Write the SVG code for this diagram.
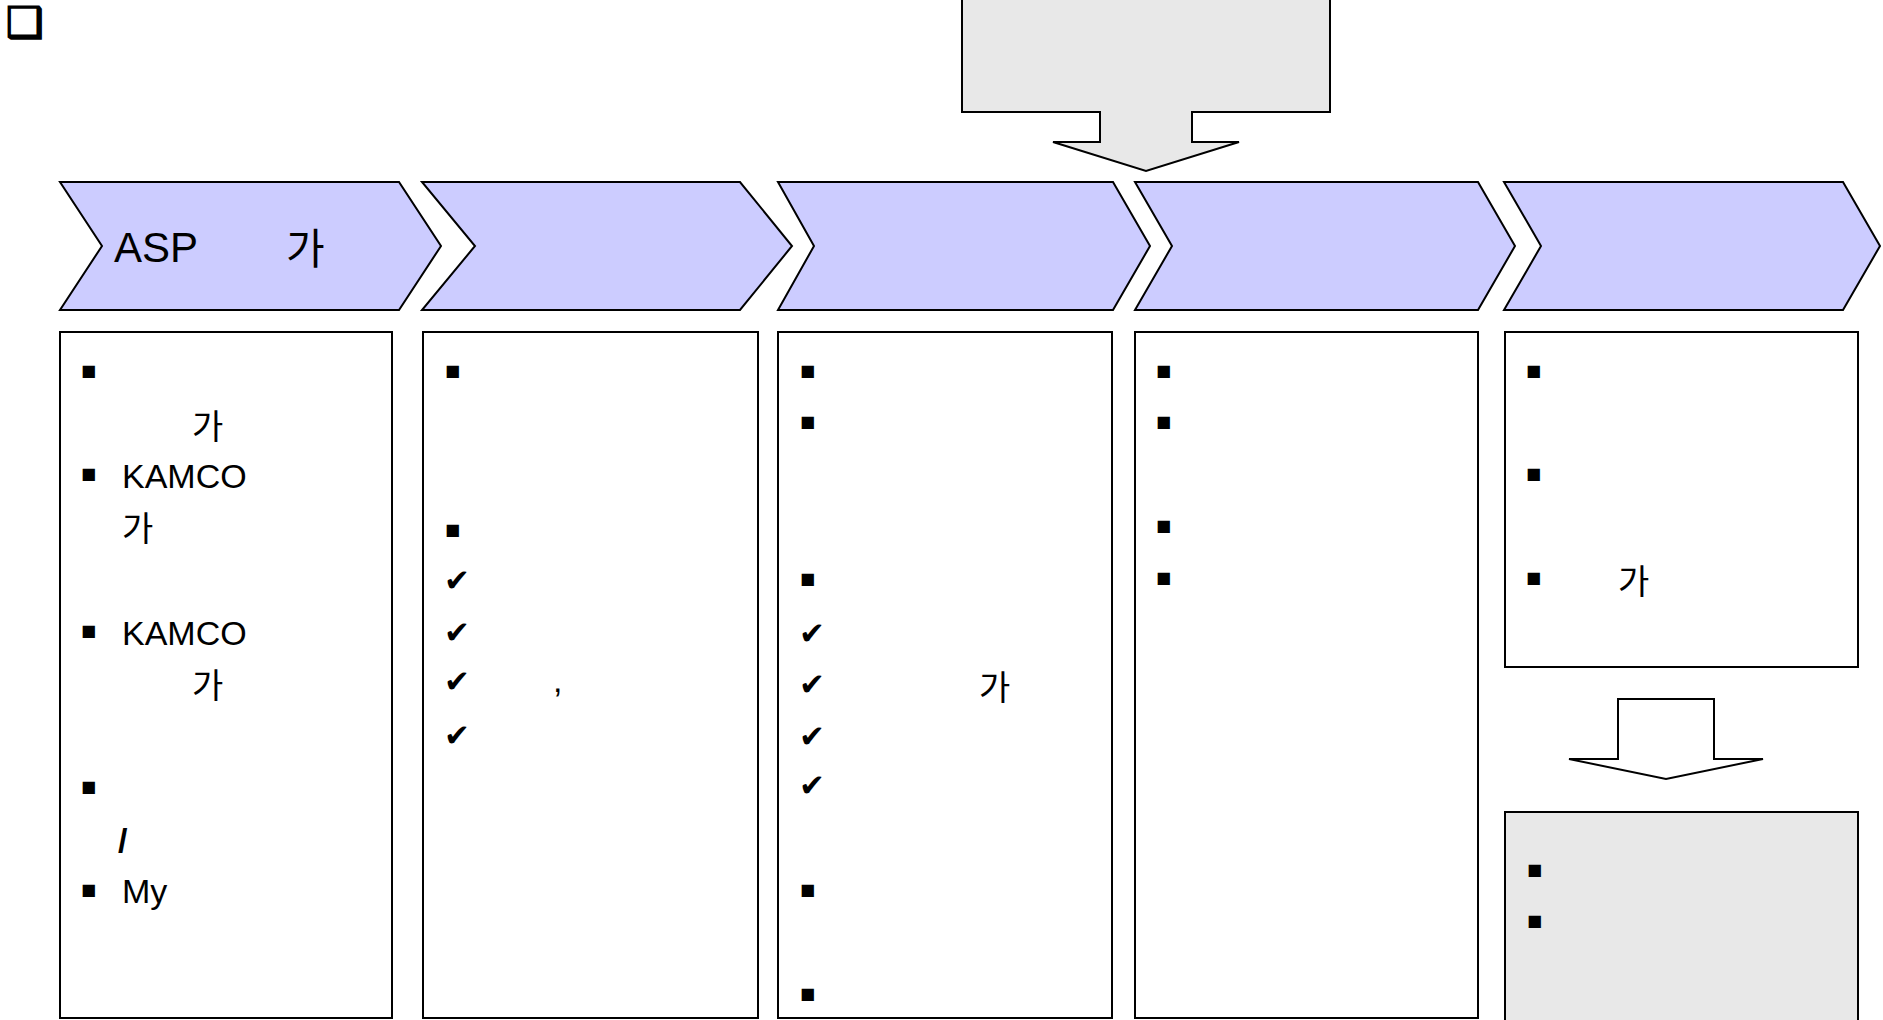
<svg xmlns="http://www.w3.org/2000/svg" width="1883" height="1020" viewBox="0 0 1883 1020">
<style>
.chev{fill:#CCCCFF;stroke:#000;stroke-width:2;stroke-linejoin:miter}
.box{fill:#FFFFFF;stroke:#000;stroke-width:2}
.gbox{fill:#E8E8E8;stroke:#000;stroke-width:2}
.arrow{stroke:#000;stroke-width:2;stroke-linejoin:miter}
.t{font-family:"Liberation Sans","Noto Sans CJK KR",sans-serif;font-size:34px;fill:#000}
.h{font-family:"Liberation Sans","Noto Sans CJK KR",sans-serif;font-size:42px;fill:#000}
.b{font-family:"DejaVu Sans",sans-serif;font-size:16px;fill:#000}
.c{font-family:"DejaVu Sans",sans-serif;font-size:31px;fill:#000}
.icon{font-family:"DejaVu Sans",sans-serif;font-size:42px;fill:#000;stroke:#000;stroke-width:1.6}
</style>
<rect width="1883" height="1020" fill="#FFFFFF"/>
<text class="icon" x="6" y="37">❑</text>

<g id="connectors">
<path class="arrow" fill="#E8E8E8" d="M962,-5 L1330,-5 L1330,112 L1192,112 L1192,142 L1239,142 L1146,171 L1053,142 L1100,142 L1100,112 L962,112 Z"/>
<path class="arrow" fill="#FFFFFF" d="M1618,699 L1714,699 L1714,759 L1763,759 L1666,779 L1569,759 L1618,759 Z"/>
</g>

<g id="step1">
<polygon class="chev" points="60,182 399,182 441,246 399,310 60,310 102,246"/>
<text class="h" x="114" y="262">ASP</text>
<text class="h" x="286" y="264">가</text>
</g>
<g id="step2">
<polygon class="chev" points="422,182 740,182 792,246 740,310 422,310 475,246"/>
</g>
<g id="step3">
<polygon class="chev" points="778,182 1113,182 1150,246 1113,310 778,310 814,246"/>
</g>
<g id="step4">
<polygon class="chev" points="1135,182 1478,182 1515,246 1478,310 1135,310 1172,246"/>
</g>
<g id="step5">
<polygon class="chev" points="1504,182 1843,182 1880,246 1843,310 1504,310 1541,246"/>
</g>

<g id="box1">
<rect class="box" x="60" y="332" width="332" height="686"/>
<text class="b" x="81" y="376">■</text>
<text class="t" x="192" y="439">가</text>
<text class="b" x="81" y="479">■</text>
<text class="t" x="122" y="488">KAMCO</text>
<text class="t" x="122" y="541">가</text>
<text class="b" x="81" y="636">■</text>
<text class="t" x="122" y="645">KAMCO</text>
<text class="t" x="192" y="698">가</text>
<text class="b" x="81" y="792">■</text>
<text class="t" x="118" y="852" font-weight="bold">/</text>
<text class="b" x="81" y="895">■</text>
<text class="t" x="122" y="903">My</text>
</g>

<g id="box2">
<rect class="box" x="423" y="332" width="335" height="686"/>
<text class="b" x="445" y="376">■</text>
<text class="b" x="445" y="535">■</text>
<text class="c" x="444" y="591">✔</text>
<text class="c" x="444" y="643">✔</text>
<text class="c" x="444" y="692">✔</text>
<text class="t" x="553" y="692">,</text>
<text class="c" x="444" y="746">✔</text>
</g>

<g id="box3">
<rect class="box" x="778" y="332" width="334" height="686"/>
<text class="b" x="800" y="376">■</text>
<text class="b" x="800" y="427">■</text>
<text class="b" x="800" y="584">■</text>
<text class="c" x="799" y="644">✔</text>
<text class="c" x="799" y="695">✔</text>
<text class="t" x="979" y="700">가</text>
<text class="c" x="799" y="747">✔</text>
<text class="c" x="799" y="796">✔</text>
<text class="b" x="800" y="895">■</text>
<text class="b" x="800" y="999">■</text>
</g>

<g id="box4">
<rect class="box" x="1135" y="332" width="343" height="686"/>
<text class="b" x="1156" y="376">■</text>
<text class="b" x="1156" y="427">■</text>
<text class="b" x="1156" y="531">■</text>
<text class="b" x="1156" y="583">■</text>
</g>

<g id="box5">
<rect class="box" x="1505" y="332" width="353" height="335"/>
<text class="b" x="1526" y="376">■</text>
<text class="b" x="1526" y="479">■</text>
<text class="b" x="1526" y="583">■</text>
<text class="t" x="1618" y="594">가</text>
</g>

<g id="result">
<rect class="gbox" x="1505" y="812" width="353" height="212"/>
<text class="b" x="1527" y="875">■</text>
<text class="b" x="1527" y="926">■</text>
</g>
</svg>
